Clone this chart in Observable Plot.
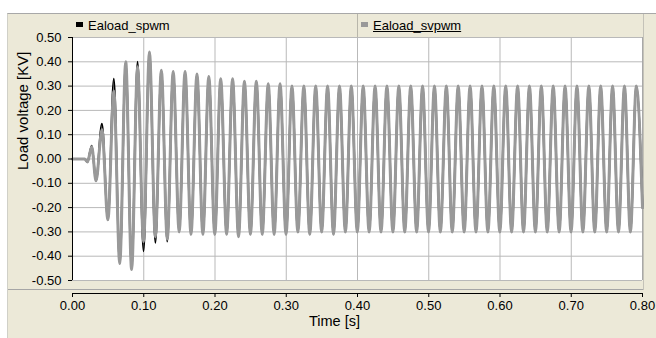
<!DOCTYPE html>
<html>
<head>
<meta charset="utf-8">
<script src="https://cdn.jsdelivr.net/npm/d3@7"></script>
<script src="https://cdn.jsdelivr.net/npm/@observablehq/plot@0.6"></script>
<style>
  html, body { margin: 0; padding: 0; background: #ffffff; }
  #wrap { position: relative; width: 656px; height: 338px; overflow: hidden; font-family: "Liberation Sans", Arial, sans-serif; }
  #panel { position: absolute; left: 7px; top: 13px; width: 649px; height: 325px; background: #ECE9D8; border-top: 1px solid #a8a8a8; border-left: 1px solid #d0d0c8; box-sizing: border-box; }
  #sep { position: absolute; left: 8px; top: 289px; width: 636px; height: 1px; background: #a6a6a6; }
  #rsep { position: absolute; left: 643px; top: 14px; width: 1px; height: 276px; background: #c4c2b8; }
  #legend { position: absolute; left: 72px; top: 14px; width: 570px; height: 23px; font-size: 13px; color: #000; }
  .item { position: absolute; top: 0; height: 23px; line-height: 23px; white-space: nowrap; }
  .sw { display: inline-block; width: 7px; height: 5px; vertical-align: middle; margin-right: 5px; position: relative; top: -2px; }
  #divider { position: absolute; left: 285px; top: 0; width: 1px; height: 23px; background: #b8b6aa; }
  #chart { position: absolute; left: 0; top: 0; }
</style>
</head>
<body>
<div id="wrap">
  <div id="panel"></div>
  <div id="sep"></div>
  <div id="rsep"></div>
  <div id="legend"></div>
  <div id="chart"></div>
</div>
<script>
// ---- data ----
const seriesNames = ["Eaload_spwm", "Eaload_svpwm"];
const seriesColors = ["#000000", "#999999"];

// turning points of the waveforms (time in s)
const times = [
  0, 0.017, 0.021, 0.027, 0.033,
  0.0413, 0.0497, 0.058, 0.0663, 0.0747, 0.083, 0.0913, 0.0997, 0.108, 0.1163,
  0.1247, 0.133, 0.1413, 0.1497, 0.158, 0.1663, 0.1747, 0.183, 0.1913, 0.1997,
  0.208, 0.2163, 0.2247, 0.233, 0.2413, 0.2497, 0.258, 0.2663, 0.2747, 0.283,
  0.2913, 0.2997, 0.308, 0.3163, 0.3247, 0.333, 0.3413, 0.3497, 0.358, 0.3663,
  0.3747, 0.383, 0.3913, 0.3997, 0.408, 0.4163, 0.4247, 0.433, 0.4413, 0.4497,
  0.458, 0.4663, 0.4747, 0.483, 0.4913, 0.4997, 0.508, 0.5163, 0.5247, 0.533,
  0.5413, 0.5497, 0.558, 0.5663, 0.5747, 0.583, 0.5913, 0.5997, 0.608, 0.6163,
  0.6247, 0.633, 0.6413, 0.6497, 0.658, 0.6663, 0.6747, 0.683, 0.6913, 0.6997,
  0.708, 0.7163, 0.7247, 0.733, 0.7413, 0.7497, 0.758, 0.7663, 0.7747, 0.783,
  0.7913, 0.8
];

// Eaload_svpwm (kV)
const svpwm = [
  0, 0, -0.012, 0.05, -0.09,
  0.12, -0.25, 0.28, -0.43, 0.40, -0.455, 0.38, -0.34, 0.44, -0.32,
  0.365, -0.33, 0.36, -0.30, 0.36, -0.31, 0.35, -0.31, 0.34, -0.31,
  0.33, -0.31, 0.33, -0.32, 0.32, -0.31, 0.32, -0.31, 0.31, -0.31,
  0.31, -0.31, 0.30, -0.30, 0.30, -0.31, 0.30, -0.30, 0.30, -0.31,
  0.30, -0.30, 0.30, -0.30, 0.30, -0.30, 0.30, -0.30, 0.30, -0.30,
  0.30, -0.30, 0.30, -0.30, 0.30, -0.30, 0.30, -0.30, 0.30, -0.30,
  0.30, -0.30, 0.30, -0.30, 0.30, -0.30, 0.30, -0.30, 0.30, -0.30,
  0.30, -0.30, 0.30, -0.30, 0.30, -0.30, 0.30, -0.30, 0.30, -0.30,
  0.30, -0.30, 0.30, -0.30, 0.30, -0.30, 0.30, -0.30, 0.30, -0.30,
  0.30, -0.20
];

// Eaload_spwm (kV)
const spwm = [
  0, 0, -0.012, 0.055, -0.09,
  0.145, -0.25, 0.33, -0.43, 0.40, -0.45, 0.40, -0.38, 0.44, -0.345,
  0.365, -0.34, 0.36, -0.30, 0.36, -0.31, 0.35, -0.31, 0.34, -0.31,
  0.33, -0.31, 0.33, -0.32, 0.32, -0.31, 0.32, -0.31, 0.31, -0.31,
  0.31, -0.31, 0.30, -0.30, 0.30, -0.31, 0.30, -0.30, 0.30, -0.31,
  0.30, -0.30, 0.30, -0.30, 0.30, -0.30, 0.30, -0.30, 0.30, -0.30,
  0.30, -0.30, 0.30, -0.30, 0.30, -0.30, 0.30, -0.30, 0.30, -0.30,
  0.30, -0.30, 0.30, -0.30, 0.30, -0.30, 0.30, -0.30, 0.30, -0.30,
  0.30, -0.30, 0.30, -0.30, 0.30, -0.30, 0.30, -0.30, 0.30, -0.30,
  0.30, -0.30, 0.30, -0.30, 0.30, -0.30, 0.30, -0.30, 0.30, -0.30,
  0.30, -0.20
];

const xTicks = [0, 0.1, 0.2, 0.3, 0.4, 0.5, 0.6, 0.7, 0.8];
const xTickLabels = ["0.00", "0.10", "0.20", "0.30", "0.40", "0.50", "0.60", "0.70", "0.80"];
const yTicks = [-0.5, -0.4, -0.3, -0.2, -0.1, 0, 0.1, 0.2, 0.3, 0.4, 0.5];
const yTickLabels = ["-0.50", "-0.40", "-0.30", "-0.20", "-0.10", "0.00", "0.10", "0.20", "0.30", "0.40", "0.50"];
const xTitle = "Time [s]";
const yTitle = "Load voltage [KV]";

// ---- legend ----
const legend = document.getElementById("legend");
legend.innerHTML =
  `<div class="item" style="left:4px"><span class="sw" style="background:${seriesColors[0]}"></span>${seriesNames[0]}</div>` +
  `<div id="divider"></div>` +
  `<div class="item" style="left:289px"><span class="sw" style="background:${seriesColors[1]}"></span><span style="text-decoration:underline">${seriesNames[1]}</span></div>`;

// ---- chart ----
const rows = times.map((t, i) => ({t, spwm: spwm[i], svpwm: svpwm[i]}));

const chart = Plot.plot({
  width: 656,
  height: 338,
  marginTop: 37,
  marginBottom: 58,
  marginLeft: 72,
  marginRight: 14,
  style: {background: "transparent", fontFamily: "'Liberation Sans', Arial, sans-serif", fontSize: "13px", color: "#000"},
  x: {domain: [0, 0.8], label: null},
  y: {domain: [-0.5, 0.5], label: null},
  marks: [
    Plot.frame({fill: "white", stroke: "none"}),
    Plot.gridX(xTicks, {stroke: "#b9b9b9", strokeOpacity: 1}),
    Plot.gridY(yTicks, {stroke: "#b9b9b9", strokeOpacity: 1}),
    Plot.ruleX([0.8], {stroke: "#a8a8a8"}),
    Plot.line(rows, {x: "t", y: "spwm", stroke: seriesColors[0], strokeWidth: 2, curve: "monotone-x"}),
    Plot.line(rows, {x: "t", y: "svpwm", stroke: seriesColors[1], strokeWidth: 3, curve: "monotone-x"}),
    Plot.ruleX([0], {stroke: "#000"}),
    Plot.axisY(yTicks, {anchor: "left", tickSize: 4, tickPadding: 7, fontSize: 13, label: null,
      tickFormat: d => yTickLabels[yTicks.indexOf(d)]}),
    Plot.ruleY([-0.5], {stroke: "#000", dy: 13}),
    Plot.axisX(xTicks, {anchor: "bottom", tickSize: 4, tickPadding: 3, dy: 13, fontSize: 13, label: null,
      tickFormat: d => xTickLabels[xTicks.indexOf(d)]}),
    Plot.text([xTitle], {frameAnchor: "bottom", dx: -23, dy: 45, fontSize: 14.5, fill: "#000"}),
    Plot.text([yTitle], {frameAnchor: "left", dx: -49, dy: 11, rotate: -90, fontSize: 15, fill: "#000"})
  ]
});
document.getElementById("chart").appendChild(chart);
</script>
</body>
</html>
